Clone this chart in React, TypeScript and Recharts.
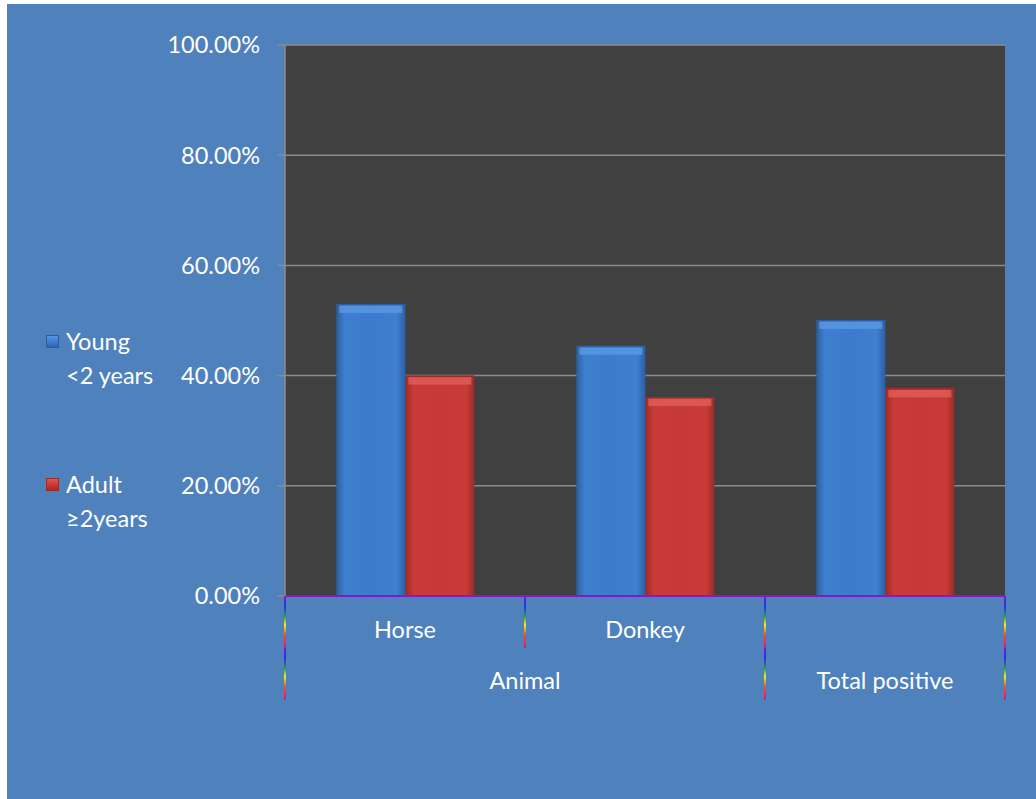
import React from "react";
import {
  BarChart,
  Bar,
  XAxis,
  YAxis,
  CartesianGrid,
  Rectangle,
} from "recharts";

const categories = ["Horse", "Donkey", ""];
const groups = ["Animal", "Animal", "Total positive"];
const young = [0.53, 0.454, 0.501];
const adult = [0.4, 0.361, 0.377];
const yTicks = [0, 0.2, 0.4, 0.6, 0.8, 1];

const data = categories.map((c, i) => ({
  name: c,
  group: groups[i],
  young: young[i],
  adult: adult[i],
}));

const FONT = "Lato, 'Noto Sans', sans-serif";
const FS = 23.5;
const BG = "#4F81BD";

const colors = {
  young: { edge: "#2C5E9E", mid: "#3F7FD0", light: "#5A98E2" },
  adult: { edge: "#9C2A28", mid: "#C93B38", light: "#DE5F5A" },
};

const Sep = ({ x, y, h }: { x: number; y: number; h: number }) => {
  const seg = 52;
  const n = Math.round(h / seg);
  return (
    <g>
      {Array.from({ length: n }).map((_, k) => (
        <rect
          key={k}
          x={x - 1}
          y={y + k * seg}
          width={2}
          height={seg}
          fill="url(#rainbow)"
        />
      ))}
    </g>
  );
};

const CategoryTick = (props: any) => {
  const { x, y, payload, index } = props;
  const half = payload && payload.offset ? payload.offset : 120;
  const i = index ?? payload.index;
  const left = x - half;
  const prevSame = i > 0 && groups[i - 1] === groups[i];
  const isFirst = !prevSame;
  let span = 1;
  while (i + span < groups.length && groups[i + span] === groups[i]) span++;
  const isLast = i === groups.length - 1;
  return (
    <g>
      <Sep x={left} y={y} h={prevSame ? 52 : 104} />
      {isLast && <Sep x={x + half} y={y} h={104} />}
      <text
        x={x}
        y={y + 36}
        textAnchor="middle"
        dominantBaseline="middle"
        fill="#fff"
        fontSize={FS}
        fontFamily={FONT}
      >
        {payload.value}
      </text>
      {isFirst && (
        <text
          x={left + span * half}
          y={y + 87}
          textAnchor="middle"
          dominantBaseline="middle"
          fill="#fff"
          fontSize={FS}
          fontFamily={FONT}
        >
          {groups[i]}
        </text>
      )}
    </g>
  );
};

const makeShape = (c: { edge: string; mid: string; light: string }, id: string) =>
  (props: any) => {
    const { x, y, width, height } = props;
    if (!height || height <= 0) return <g />;
    return (
      <g>
        <Rectangle x={x} y={y} width={width} height={height} fill={`url(#${id})`} />
        <rect x={x + 3} y={y + 1} width={width - 6} height={Math.min(8, height)} fill={c.light} opacity={0.8} />
        <rect x={x} y={y} width={width} height={1.5} fill={c.edge} />
      </g>
    );
  };

const YoungShape = makeShape(colors.young, "gYoung");
const AdultShape = makeShape(colors.adult, "gAdult");

const LegendItem = ({ top, color, lines }: { top: number; color: { edge: string; mid: string; light: string }; lines: string[] }) => (
  <div style={{ position: "absolute", left: 39, top, fontFamily: FONT, color: "#fff", fontSize: FS }}>
    <div
      style={{
        position: "absolute",
        left: 0,
        top: 9,
        width: 13,
        height: 13,
        background: `linear-gradient(${color.light}, ${color.mid} 50%, ${color.edge})`,
        boxShadow: "inset 0 0 0 1px " + color.edge,
      }}
    />
    {lines.map((l, k) => (
      <div key={k} style={{ position: "absolute", left: 20, top: k * 34, whiteSpace: "nowrap", lineHeight: "30px" }}>
        {l}
      </div>
    ))}
  </div>
);

const App = () => {
  return (
    <div
      style={{
        position: "absolute",
        left: 7,
        top: 4,
        width: 1029,
        height: 795,
        background: BG,
      }}
    >
      <BarChart
        width={1029}
        height={795}
        data={data}
        margin={{ top: 41, right: 31, left: 0, bottom: 0 }}
        barCategoryGap="21.4%"
        barGap={0}
      >
        <defs>
          <linearGradient id="rainbow" x1="0" y1="0" x2="0" y2="1">
            <stop offset="0" stopColor="#7A1FC0" />
            <stop offset="0.2" stopColor="#2030F0" />
            <stop offset="0.4" stopColor="#30A040" />
            <stop offset="0.55" stopColor="#F0F020" />
            <stop offset="0.75" stopColor="#F05020" />
            <stop offset="1" stopColor="#E01080" />
          </linearGradient>
          <linearGradient id="gYoung" x1="0" y1="0" x2="1" y2="0">
            <stop offset="0" stopColor={colors.young.edge} />
            <stop offset="0.12" stopColor={colors.young.mid} />
            <stop offset="0.5" stopColor="#3C7BCB" />
            <stop offset="0.88" stopColor={colors.young.mid} />
            <stop offset="1" stopColor={colors.young.edge} />
          </linearGradient>
          <linearGradient id="gAdult" x1="0" y1="0" x2="1" y2="0">
            <stop offset="0" stopColor={colors.adult.edge} />
            <stop offset="0.12" stopColor={colors.adult.mid} />
            <stop offset="0.5" stopColor="#C63936" />
            <stop offset="0.88" stopColor={colors.adult.mid} />
            <stop offset="1" stopColor={colors.adult.edge} />
          </linearGradient>
        </defs>
        <CartesianGrid
          vertical={false}
          stroke="#8C8C8C"
          strokeWidth={1.5}
          fill="#404040"
          fillOpacity={1}
        />
        <XAxis
          dataKey="name"
          height={203}
          tickLine={false}
          tickSize={0}
          tickMargin={0}
          interval={0}
          axisLine={{ stroke: "#7A1FC0", strokeWidth: 2 }}
          tick={<CategoryTick />}
        />
        <YAxis
          width={278}
          domain={[0, 1]}
          ticks={yTicks}
          tickSize={8}
          tickMargin={17}
          tickLine={{ stroke: "#8C8C8C", strokeWidth: 1.5 }}
          axisLine={{ stroke: "#8C8C8C", strokeWidth: 1.5 }}
          tickFormatter={(v: number) => `${(v * 100).toFixed(2)}%`}
          tick={{ fill: "#fff", fontSize: FS, fontFamily: FONT }}
        />
        <Bar dataKey="young" name="Young <2 years" shape={YoungShape} isAnimationActive={false} />
        <Bar dataKey="adult" name="Adult ≥2years" shape={AdultShape} isAnimationActive={false} />
      </BarChart>
      <LegendItem top={322} color={colors.young} lines={["Young", "<2 years"]} />
      <LegendItem top={465} color={colors.adult} lines={["Adult", "≥2years"]} />
    </div>
  );
};

export default App;
